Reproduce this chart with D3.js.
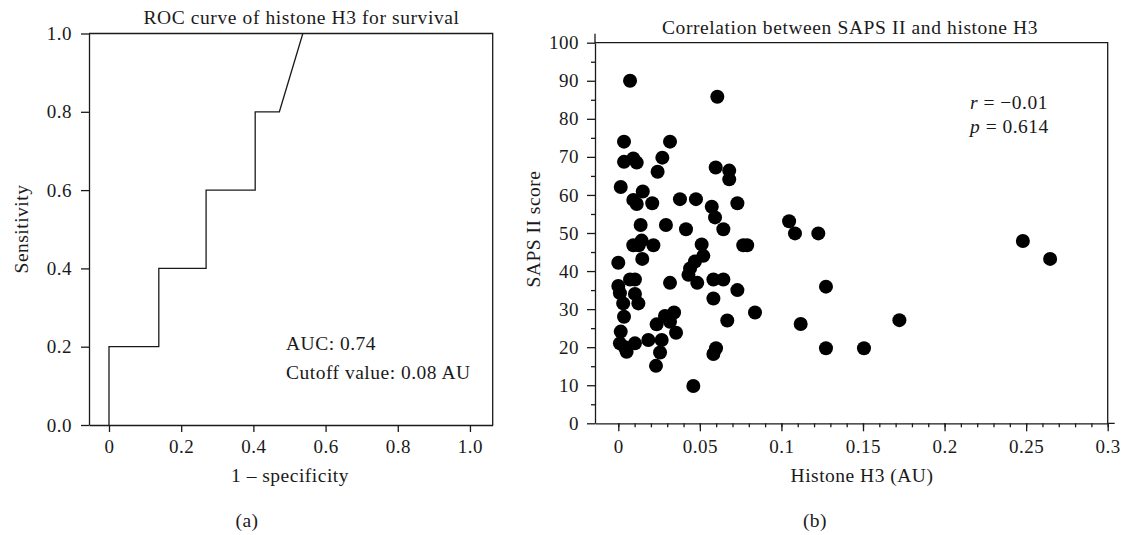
<!DOCTYPE html>
<html>
<head>
<meta charset="utf-8">
<style>
  body { margin: 0; background: #fff; }
  svg text { font-family: "Liberation Serif", "DejaVu Serif", serif; fill: #1a1a1a; }
  .tick text { font-size: 19px; letter-spacing: 0.5px; }
  .axis path, .axis line { stroke: #1a1a1a; stroke-width: 1.3; }
  .title-text { font-size: 19.5px; letter-spacing: 0.6px; }
  .label-text { font-size: 19.5px; letter-spacing: 0.5px; }
</style>
</head>
<body>
<div id="chart"></div>
<script src="https://d3js.org/d3.v7.min.js"></script>
<script>
// (a) ROC curve, step points
var rocFpr = [0, 0, 0.138, 0.138, 0.269, 0.269, 0.405, 0.405, 0.472, 0.537];
var rocTpr = [0, 0.2, 0.2, 0.4, 0.4, 0.6, 0.6, 0.8, 0.8, 1.0];
var rocXTicks = [0, 0.2, 0.4, 0.6, 0.8, 1.0];
var rocXLabels = ["0", "0.2", "0.4", "0.6", "0.8", "1.0"];
var rocYTicks = [0, 0.2, 0.4, 0.6, 0.8, 1.0];
var rocYLabels = ["0.0", "0.2", "0.4", "0.6", "0.8", "1.0"];

// (b) SAPS II vs histone H3
var histoneH3 = [0.0072, 0.0607, 0.0035, 0.0317, 0.0035, 0.0092, 0.0113, 0.027, 0.0241, 0.0597,
  0.068, 0.068, 0.0015, 0.015, 0.0092, 0.0113, 0.0208, 0.0378, 0.0476, 0.0573,
  0.0593, 0.073, 0.1047, 0.1083, 0.1226, 0.0137, 0.0292, 0.0415, 0.0644, 0.0143,
  0.0092, 0.0125, 0.0215, 0.0511, 0.0766, 0.079, 0.0, 0.0147, 0.0521, 0.047,
  0.044, 0.043, 0.0072, 0.0102, 0.0317, 0.0484, 0.0583, 0.0644, 0.073, 0.0,
  0.001, 0.0102, 0.003, 0.0123, 0.0583, 0.0035, 0.0015, 0.001, 0.0051, 0.004,
  0.0102, 0.0184, 0.0266, 0.0256, 0.0231, 0.0235, 0.0286, 0.0342, 0.0317, 0.0354,
  0.046, 0.0838, 0.0668, 0.0599, 0.0583, 0.1273, 0.1118, 0.1723, 0.1273, 0.1506,
  0.248, 0.2647];
var sapsII = [90.0, 85.8, 74.0, 74.0, 68.7, 69.6, 68.5, 69.8, 66.1, 67.2,
  66.4, 64.1, 62.1, 60.9, 58.7, 57.6, 57.8, 58.9, 58.9, 56.9,
  54.1, 57.8, 53.1, 49.9, 49.9, 52.1, 52.1, 51.0, 51.0, 48.0,
  46.8, 46.8, 46.8, 47.0, 46.8, 46.8, 42.2, 43.2, 44.0, 42.5,
  40.7, 39.0, 37.8, 37.8, 36.9, 36.9, 37.8, 37.8, 35.0, 36.1,
  34.2, 34.0, 31.5, 31.5, 32.8, 28.0, 24.1, 21.0, 18.8, 20.0,
  21.0, 21.9, 21.9, 18.6, 15.1, 26.0, 28.2, 29.1, 26.7, 23.8,
  9.8, 29.1, 27.0, 19.7, 18.2, 35.9, 26.1, 27.1, 19.7, 19.7,
  47.9, 43.2];
var corrXTicks = [0, 0.05, 0.1, 0.15, 0.2, 0.25, 0.3];
var corrXLabels = ["0", "0.05", "0.1", "0.15", "0.2", "0.25", "0.3"];
var corrXMinor = d3.range(0, 0.301, 0.01);
var corrYTicks = d3.range(0, 101, 10);
var corrYMinor = d3.range(5, 100, 10);

var W = 1125, H = 535;
var svg = d3.select("#chart").append("svg")
  .attr("width", W).attr("height", H);

// ---------- panel (a) ----------
var a = { left: 89, right: 492.7, top: 33.5, bottom: 425 };
var xa = d3.scaleLinear().domain([-0.0554, 1.063]).range([a.left, a.right]);
var ya = d3.scaleLinear().domain([0, 1]).range([a.bottom, a.top]);

var ga = svg.append("g");
ga.append("g").attr("class", "axis")
  .attr("transform", "translate(0," + a.bottom + ")")
  .call(d3.axisBottom(xa).tickValues(rocXTicks).tickSize(7).tickSizeOuter(0).tickPadding(8)
    .tickFormat(function(d, i) { return rocXLabels[i]; }));
ga.append("g").attr("class", "axis")
  .attr("transform", "translate(" + a.left + ",0)")
  .call(d3.axisLeft(ya).tickValues(rocYTicks).tickSize(8).tickSizeOuter(0).tickPadding(9)
    .tickFormat(function(d, i) { return rocYLabels[i]; }));
// top and right frame
ga.append("path")
  .attr("d", "M" + a.left + "," + a.top + "H" + a.right + "V" + a.bottom)
  .attr("fill", "none").attr("stroke", "#1a1a1a").attr("stroke-width", 1.3);

var rocLine = d3.line().x(function(d) { return xa(d[0]); }).y(function(d) { return ya(d[1]); });
ga.append("path")
  .datum(d3.zip(rocFpr, rocTpr))
  .attr("d", rocLine)
  .attr("fill", "none").attr("stroke", "#1a1a1a").attr("stroke-width", 1.3);

ga.append("text").attr("class", "title-text")
  .attr("x", 301.5).attr("y", 24).attr("text-anchor", "middle")
  .text("ROC curve of histone H3 for survival");
ga.append("text").attr("class", "label-text")
  .attr("x", 290).attr("y", 482).attr("text-anchor", "middle")
  .text("1 \u2013 specificity");
ga.append("text").attr("class", "label-text")
  .attr("transform", "translate(28,229) rotate(-90)").attr("text-anchor", "middle")
  .text("Sensitivity");
ga.append("text").attr("class", "label-text")
  .attr("x", 286).attr("y", 350).text("AUC: 0.74");
ga.append("text").attr("class", "label-text")
  .attr("x", 286).attr("y", 379).text("Cutoff value: 0.08 AU");
ga.append("text").attr("class", "label-text")
  .attr("x", 247).attr("y", 527).attr("text-anchor", "middle").text("(a)");

// ---------- panel (b) ----------
var b = { left: 595, right: 1107.7, top: 42.7, bottom: 423.3 };
var xb = d3.scaleLinear().domain([-0.01428, 0.3]).range([b.left, b.right]);
var yb = d3.scaleLinear().domain([0, 100]).range([b.bottom, b.top]);

var gb = svg.append("g");
// minor ticks
gb.append("g").attr("class", "axis")
  .attr("transform", "translate(0," + b.bottom + ")")
  .call(d3.axisBottom(xb).tickValues(corrXMinor).tickSize(4).tickSizeOuter(0).tickFormat(""))
  .select(".domain").remove();
gb.append("g").attr("class", "axis")
  .attr("transform", "translate(" + b.left + ",0)")
  .call(d3.axisLeft(yb).tickValues(corrYMinor).tickSize(4).tickSizeOuter(0).tickFormat(""))
  .select(".domain").remove();
// major axes
gb.append("g").attr("class", "axis")
  .attr("transform", "translate(0," + b.bottom + ")")
  .call(d3.axisBottom(xb).tickValues(corrXTicks).tickSize(8).tickSizeOuter(0).tickPadding(8)
    .tickFormat(function(d, i) { return corrXLabels[i]; }));
gb.append("g").attr("class", "axis")
  .attr("transform", "translate(" + b.left + ",0)")
  .call(d3.axisLeft(yb).tickValues(corrYTicks).tickSize(8).tickSizeOuter(0).tickPadding(8));
// axis overhangs and frame
gb.append("path")
  .attr("d", "M" + b.left + "," + (b.top - 9) + "V" + b.top + "H" + b.right + "V" + b.bottom + "h7")
  .attr("fill", "none").attr("stroke", "#1a1a1a").attr("stroke-width", 1.3);

gb.append("g").selectAll("circle")
  .data(d3.zip(histoneH3, sapsII))
  .enter().append("circle")
  .attr("cx", function(d) { return xb(d[0]); })
  .attr("cy", function(d) { return yb(d[1]); })
  .attr("r", 7)
  .attr("fill", "#000");

gb.append("text").attr("class", "title-text")
  .attr("x", 850).attr("y", 34).attr("text-anchor", "middle")
  .text("Correlation between SAPS II and histone H3");
gb.append("text").attr("class", "label-text")
  .attr("x", 862).attr("y", 482).attr("text-anchor", "middle")
  .text("Histone H3 (AU)");
gb.append("text").attr("class", "label-text")
  .attr("transform", "translate(540,229) rotate(-90)").attr("text-anchor", "middle")
  .text("SAPS II score");
var rt = gb.append("text").attr("class", "label-text").attr("x", 970).attr("y", 109);
rt.append("tspan").attr("font-style", "italic").text("r");
rt.append("tspan").text(" = \u22120.01");
var pt = gb.append("text").attr("class", "label-text").attr("x", 970).attr("y", 133);
pt.append("tspan").attr("font-style", "italic").text("p");
pt.append("tspan").text(" = 0.614");
gb.append("text").attr("class", "label-text")
  .attr("x", 815).attr("y", 527).attr("text-anchor", "middle").text("(b)");
</script>
</body>
</html>
